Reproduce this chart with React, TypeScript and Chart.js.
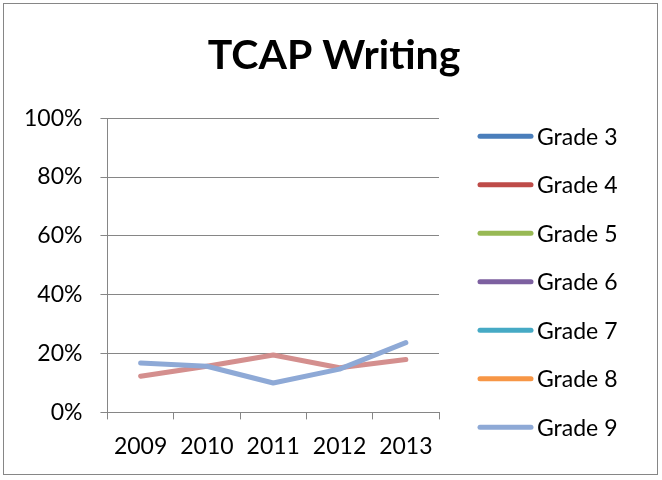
import React, { useEffect, useRef } from "react";
import { Chart, registerables } from "chart.js";

Chart.register(...registerables);

const years = ["2009", "2010", "2011", "2012", "2013"];
const seriesNames = ["Grade 3", "Grade 4", "Grade 5", "Grade 6", "Grade 7", "Grade 8", "Grade 9", "Grade 10"];
const seriesColors = ["#4A7EBB", "#BE4B48", "#98B954", "#7D60A0", "#46AAC5", "#F79646", "#8EA9D6", "#D48F8E"];
const grade3: (number | null)[] = [null, null, null, null, null];
const grade4: (number | null)[] = [null, null, null, null, null];
const grade5: (number | null)[] = [null, null, null, null, null];
const grade6: (number | null)[] = [null, null, null, null, null];
const grade7: (number | null)[] = [null, null, null, null, null];
const grade8: (number | null)[] = [null, null, null, null, null];
const grade9 = [0.168, 0.157, 0.1, 0.147, 0.237];
const grade10 = [0.123, 0.157, 0.195, 0.152, 0.18];
const legendShown = 7; // legend in the picture lists Grade 3 .. Grade 9
const yTicks = [0, 0.2, 0.4, 0.6, 0.8, 1];

const FONT = "Lato, 'Open Sans', sans-serif";
const AXIS = "#868686";

const sideLegend = {
  id: "sideLegend",
  afterDraw(chart: any) {
    const { ctx, chartArea } = chart;
    const x0 = chartArea.right + 39;
    const y0 = chartArea.top + 18;
    const step = 48.5;
    ctx.save();
    ctx.font = `23px ${FONT}`;
    ctx.textBaseline = "middle";
    ctx.textAlign = "left";
    chart.data.datasets.slice(0, legendShown).forEach((ds: any, i: number) => {
      const y = y0 + i * step;
      ctx.beginPath();
      ctx.strokeStyle = ds.borderColor;
      ctx.lineWidth = 5;
      ctx.lineCap = "round";
      ctx.moveTo(x0 + 2, y);
      ctx.lineTo(x0 + 53, y);
      ctx.stroke();
      ctx.fillStyle = "#000";
      ctx.fillText(ds.label, x0 + 59, y + 1);
    });
    ctx.restore();
  },
};

export default function App() {
  const ref = useRef<HTMLCanvasElement>(null);
  useEffect(() => {
    document.body.style.margin = "0";
    const all = [grade3, grade4, grade5, grade6, grade7, grade8, grade9, grade10];
    const chart = new Chart(ref.current!, {
      type: "line",
      data: {
        labels: years,
        datasets: all.map((d, i) => ({
          label: seriesNames[i],
          data: d,
          borderColor: seriesColors[i],
          backgroundColor: seriesColors[i],
          borderWidth: 5,
          pointRadius: 0,
          tension: 0,
          borderCapStyle: "round" as const,
          borderJoinStyle: "round" as const,
        })),
      },
      options: {
        animation: false,
        responsive: false,
        maintainAspectRatio: false,
        layout: { padding: { left: 6, right: 0, top: 0, bottom: 7 } },
        plugins: {
          legend: { display: false },
          tooltip: { enabled: false },
          title: {
            display: true,
            text: "TCAP Writing",
            color: "#000",
            font: { family: FONT, size: 41, weight: "bold" },
            padding: { top: 31, bottom: 38 },
          },
        },
        scales: {
          x: {
            type: "category",
            offset: true,
            grid: {
              offset: true,
              drawOnChartArea: false,
              drawTicks: true,
              tickLength: 7,
              color: AXIS,
              lineWidth: 1,
            },
            border: { color: AXIS, width: 1 },
            ticks: {
              color: "#000",
              font: { family: FONT, size: 23 },
              padding: 13,
              maxRotation: 0,
            },
          },
          y: {
            min: 0,
            max: 1,
            afterBuildTicks: (axis: any) => {
              axis.ticks = yTicks.map((v) => ({ value: v }));
            },
            grid: { color: AXIS, lineWidth: 1, tickLength: 7 },
            border: { color: AXIS, width: 1 },
            ticks: {
              color: "#000",
              font: { family: FONT, size: 23 },
              padding: 18,
              callback: (v: any) => `${Math.round(Number(v) * 100)}%`,
            },
          },
          legendSpace: {
            type: "linear",
            position: "right",
            display: true,
            grid: { display: false, drawTicks: false },
            border: { display: false },
            ticks: { display: false },
            afterFit: (s: any) => {
              s.width = 223;
            },
          },
        },
      },
      plugins: [sideLegend],
    });
    return () => chart.destroy();
  }, []);
  return (
    <div style={{ position: "relative", width: 662, height: 480, background: "#fff" }}>
      <div
        style={{
          position: "absolute",
          left: 3,
          top: 3,
          width: 655,
          height: 472,
          border: "1.5px solid #868686",
          boxSizing: "border-box",
        }}
      />
      <canvas ref={ref} width={662} height={480} style={{ position: "absolute", left: 0, top: 0, display: "block" }} />
    </div>
  );
}
